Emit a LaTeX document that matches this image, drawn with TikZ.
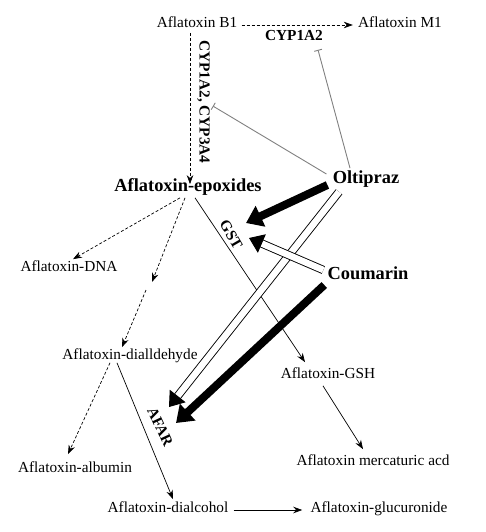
\documentclass[tikz,border=0pt]{standalone}
\usepackage{fontspec}
\setmainfont{Liberation Serif}
\usetikzlibrary{arrows.meta}
\begin{document}
\begin{tikzpicture}[x=1pt, y=-1pt, line width=0.7pt,
    txt/.style={inner sep=0pt, font=\fontsize{15.3}{18}\selectfont, text height=0.7em, text depth=0.2em},
    big/.style={inner sep=0pt, font=\fontsize{18.4}{22}\selectfont\bfseries, text height=0.7em, text depth=0.2em},
    enz/.style={inner sep=0pt, font=\fontsize{15.3}{18}\selectfont\bfseries, text height=0.7em, text depth=0.2em},
    tip/.style={-{Stealth[length=9pt, width=6.5pt]}},
    dsh/.style={tip, dash pattern=on 3pt off 2pt},
    inh/.style={gray, line width=0.9pt, -{Bar[width=8pt]}},
    fat/.style={line width=8pt, -{Triangle[length=16pt, width=22pt]}},
    hollow/.style={double, double distance=6.5pt, line width=0.9pt, -{Triangle[length=14pt, width=20pt]}}]
    \useasboundingbox (0,0) rectangle (485,532);
    \node[txt] (b1) at (197,25) {Aflatoxin B1};
    \node[txt] (m1) at (400,25) {Aflatoxin M1};
    \node[enz] (cyp1) at (294,38) {CYP1A2};
    \node[enz, rotate=-90] (cyp34) at (202,102) {CYP1A2, CYP3A4};
    \node[big] (epox) at (188,189) {Aflatoxin-epoxides};
    \node[big] (olti) at (366,181) {Oltipraz};
    \node[big] (coum) at (368,277) {Coumarin};
    \node[enz, rotate=-60] (gst) at (229,236) {GST};
    \node[enz, rotate=-65] (afar) at (158,428) {AFAR};
    \node[txt] (dna) at (69,269) {Aflatoxin-DNA};
    \node[txt] (dial) at (130,357) {Aflatoxin-dialldehyde};
    \node[txt] (alb) at (75,470) {Aflatoxin-albumin};
    \node[txt] (dalc) at (168,510) {Aflatoxin-dialcohol};
    \node[txt] (gluc) at (379,510) {Aflatoxin-glucuronide};
    \node[txt] (gsh) at (328,376) {Aflatoxin-GSH};
    \node[txt] (merc) at (373,463) {Aflatoxin mercaturic acd};
    \coordinate (brka) at (152,282);
    \coordinate (brkb) at (146,290);

    \draw[dsh, shorten <=4pt, shorten >=5pt] (b1.east) -- (m1.west);
    \draw[dsh] ([shift={(-7,3)}]b1.south) -- ([shift={(2,0)}]epox.north);
    \draw[dsh] ([shift={(-8,4)}]epox.south) -- ([shift={(4,-5)}]dna.north);
    \draw[dsh] ([shift={(-3,4)}]epox.south) -- (brka);
    \draw[dsh] (brkb) -- ([shift={(-8,-5)}]dial.north);
    \draw[dsh] ([shift={(-20,1)}]dial.south) -- ([shift={(-7,-11)}]alb.north);
    \draw[tip] ([shift={(-13,1)}]dial.south) -- ([shift={(5,-6)}]dalc.north);
    \draw[tip, shorten <=5pt, shorten >=8pt] (dalc.east) -- (gluc.west);
    \draw[tip] ([shift={(7,4)}]epox.south) -- ([shift={(-23,-9)}]gsh.north);
    \draw[tip] ([shift={(-5,5)}]gsh.south) -- ([shift={(-10,-9)}]merc.north);

    \draw[inh] ([shift={(-16,-8)}]olti.north) -- ([shift={(24,7)}]cyp1.south);
    \draw[inh] ([shift={(-6,-7)}]olti.west) -- ([shift={(6,4)}]cyp34.north);

    \draw[fat] ([shift={(-5,4)}]olti.west) -- ([shift={(17,-13)}]gst.center);
    \draw[fat] ([shift={(-3,8)}]coum.west) -- ([shift={(18,-5)}]afar.center);
    \draw[hollow] ([shift={(-27,6)}]olti.south) -- ([shift={(11,-21)}]afar.center);
    \draw[hollow] ([shift={(-4,-7)}]coum.west) -- ([shift={(20,2)}]gst.center);
\end{tikzpicture}
\end{document}
